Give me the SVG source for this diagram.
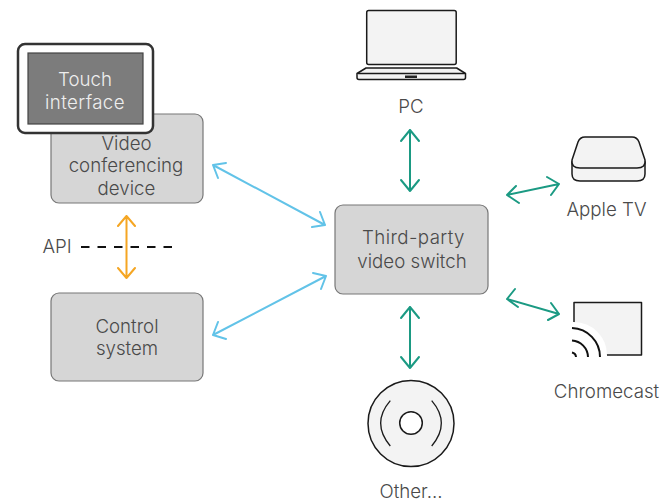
<svg xmlns="http://www.w3.org/2000/svg" width="661" height="503" viewBox="0 0 661 503">
<style>
text{font-family:"Inter","Liberation Sans",sans-serif;font-weight:300;font-size:18.700px;fill:#4a4a4a;text-anchor:middle}
.box{fill:#d6d6d6;stroke:#777;stroke-width:1.2}
.dev{fill:#f3f3f3;stroke:#1a1a1a;stroke-width:1.5;stroke-linejoin:round}
.c{fill:none;stroke-width:2;stroke-linecap:round;stroke-linejoin:round}
.blue{stroke:#62c3e8}.green{stroke:#1b9a83}.orange{stroke:#f5a623}
</style>
<g id="connectors">
<g class="c blue">
<path d="M213 165L325 225M226 163L213 165L218 178M312 227L325 225L320 212"/>
<path d="M326 276L213 335M313 273L326 276L321 289M218 322L213 335L226 339"/>
</g>
<g class="c orange"><path d="M126.500 216V278M118 226L126.500 216L135 226M118 268L126.500 278L135 268"/></g>
<path d="M81 247H173" fill="none" stroke="#111" stroke-width="2" stroke-dasharray="8.500 8"/>
<g class="c green">
<path d="M410 130V191M401 141L410 130L419 141M401 180L410 191L419 180"/>
<path d="M507 195L559 184M519 203L507 195L516 186M547 177L559 184L551 195"/>
<path d="M507 299L559 314M515 289L507 299L518 307M548 320L559 314L551 303"/>
<path d="M410 307V368M401 318L410 307L419 318M401 357L410 368L419 357"/>
</g>
</g>
<g id="video-device">
<rect class="box" x="51" y="114" width="152" height="89" rx="8"/>
<text x="126.500" y="150">Video</text><text x="126" y="172">conferencing</text><text x="126.500" y="195">device</text>
</g>
<g id="touch-interface">
<rect x="18" y="44" width="135" height="89" rx="7" fill="#fff" stroke="#333" stroke-width="2.500"/>
<rect x="28" y="53" width="115" height="71" fill="#7c7c7c" stroke="#444" stroke-width="1.200"/>
<text x="85" y="86" style="fill:#eee">Touch</text><text x="85" y="109" style="fill:#eee;letter-spacing:.4px">interface</text>
</g>
<g id="control-system">
<rect class="box" x="51" y="293" width="152" height="88" rx="8"/>
<text x="127" y="333">Control</text><text x="127" y="355">system</text>
</g>
<g id="api"><text x="57" y="253">API</text></g>
<g id="video-switch">
<rect class="box" x="335" y="205" width="153" height="89" rx="8"/>
<text x="413.500" y="244" style="letter-spacing:.4px">Third-party</text><text x="412" y="268">video switch</text>
</g>
<g id="pc">
<rect class="dev" x="366.700" y="10.500" width="89.500" height="54" rx="2"/>
<path class="dev" d="M366 68H456.700L465.500 73.500V77.500Q465.500 79.500 463.500 79.500H359Q357 79.500 357 77.500V73.500Z"/>
<path d="M358 73.500H465" stroke="#1a1a1a" stroke-width="1.500" fill="none"/>
<rect x="405" y="75.500" width="12" height="2.500" fill="#222"/>
<text x="411" y="113">PC</text>
</g>
<g id="apple-tv">
<path class="dev" d="M572 162V174Q572 181 580 181H637Q645 181 645 174V162Z"/>
<path class="dev" d="M585 137H632Q637 137 639 142L645 160Q646 168 637 168H580Q571 168 572 160L578 142Q580 137 585 137Z"/>
<text x="606.500" y="216">Apple TV</text>
</g>
<g id="chromecast">
<path class="dev" d="M574 302.500H641.500V355H574Z"/>
<path d="M572 322H574A33 33 0 0 1 607 355V359H572Z" fill="#fff"/>
<path d="M572 328A29 29 0 0 1 600 357M572 340.500A17 17 0 0 1 588 357M572 352.500A5 5 0 0 1 576 357" fill="none" stroke="#111" stroke-width="2"/>
<text x="606.500" y="398">Chromecast</text>
</g>
<g id="other">
<circle class="dev" cx="411" cy="423.500" r="43"/>
<circle cx="411" cy="423" r="11.300" fill="#fff" stroke="#1a1a1a" stroke-width="1.500"/>
<path d="M390.300 400.700Q371 423.300 390.300 446M431.700 400.700Q451 423.300 431.700 446" fill="none" stroke="#1a1a1a" stroke-width="1.300"/>
<text x="411" y="498">Other...</text>
</g>
</svg>
